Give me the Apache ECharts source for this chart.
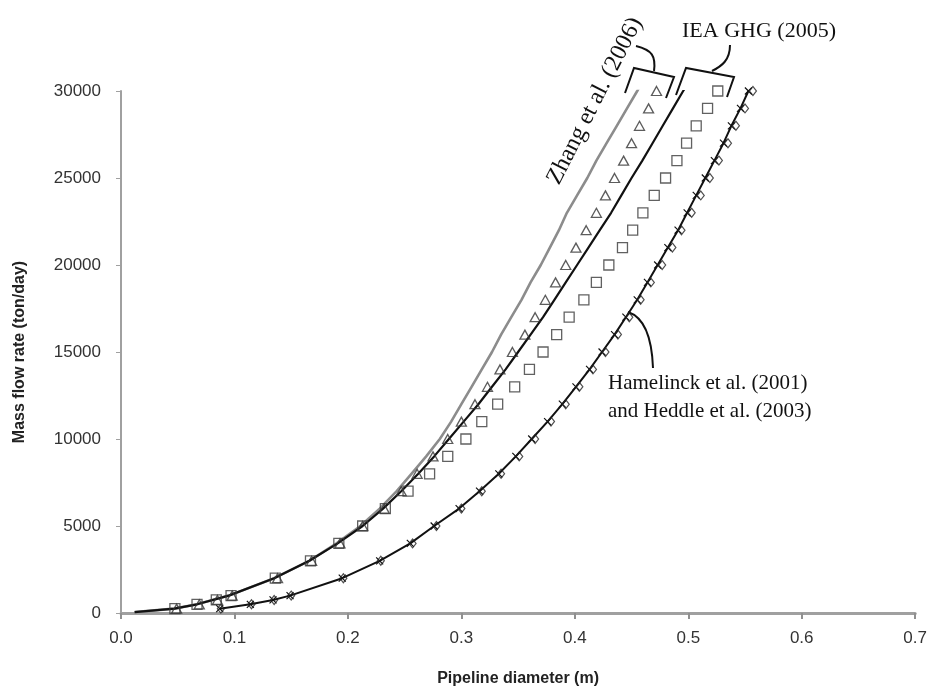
<!DOCTYPE html>
<html>
<head>
<meta charset="utf-8">
<script src="https://cdn.jsdelivr.net/npm/echarts@6/dist/echarts.min.js"></script>
<style>
html,body{margin:0;padding:0;background:#fff;}
#chart{width:930px;height:694px;}
</style>
</head>
<body>
<div id="chart"></div>
<script>
// ---------- data (mass flow rate in ton/day, pipeline diameter in m) ----------
const pointFlow = [250, 500, 750, 1000, 2000, 3000, 4000, 5000, 6000, 7000, 8000, 9000, 10000,
  11000, 12000, 13000, 14000, 15000, 16000, 17000, 18000, 19000, 20000,
  21000, 22000, 23000, 24000, 25000, 26000, 27000, 28000, 29000, 30000];

// Zhang et al. (2006) - triangles
const zhangPointsD = [0.049, 0.069, 0.085, 0.098, 0.138, 0.168, 0.193, 0.213, 0.232, 0.247, 0.261, 0.275, 0.288,
  0.300, 0.312, 0.323, 0.334, 0.345, 0.356, 0.365, 0.374, 0.383, 0.392,
  0.401, 0.410, 0.419, 0.427, 0.435, 0.443, 0.450, 0.457, 0.465, 0.472];

// IEA GHG (2005) - squares
const ieaPointsD = [0.0475, 0.067, 0.084, 0.097, 0.136, 0.167, 0.192, 0.213, 0.233, 0.253, 0.272, 0.288, 0.304,
  0.318, 0.332, 0.347, 0.360, 0.372, 0.384, 0.395, 0.408, 0.419, 0.430,
  0.442, 0.451, 0.460, 0.470, 0.480, 0.490, 0.4985, 0.507, 0.517, 0.526];

// Hamelinck et al. (2001) - diamonds
const hamelinckD = [0.088, 0.115, 0.135, 0.150, 0.196, 0.229, 0.257, 0.278, 0.300, 0.318, 0.335, 0.351, 0.365,
  0.379, 0.392, 0.404, 0.416, 0.427, 0.438, 0.448, 0.458, 0.467, 0.477,
  0.486, 0.494, 0.503, 0.511, 0.519, 0.527, 0.535, 0.542, 0.550, 0.557];

// Heddle et al. (2003) - crosses on line
const heddleD = [0.087, 0.114, 0.134, 0.149, 0.195, 0.228, 0.255, 0.276, 0.298, 0.316, 0.333, 0.348, 0.362,
  0.376, 0.389, 0.401, 0.413, 0.424, 0.435, 0.445, 0.455, 0.464, 0.473,
  0.482, 0.491, 0.499, 0.507, 0.515, 0.523, 0.531, 0.538, 0.546, 0.553];

// model curves
const curveFlow = [50, 250, 500, 1000, 2000, 3000, 4000, 5000, 6000, 7000, 8000, 9000, 10000,
  11000, 12000, 13000, 14000, 15000, 16000, 17000, 18000, 19000, 20000,
  21000, 22000, 23000, 24000, 25000, 26000, 27000, 28000, 29000, 30000, 30350];
const zhangCurveD = [0.012, 0.047, 0.067, 0.095, 0.135, 0.166, 0.190, 0.211, 0.228, 0.243, 0.256, 0.269, 0.281,
  0.291, 0.300, 0.309, 0.318, 0.327, 0.335, 0.344, 0.353, 0.361, 0.370,
  0.378, 0.386, 0.393, 0.402, 0.411, 0.419, 0.428, 0.437, 0.446, 0.455, 0.458];
const ieaCurveD = [0.012, 0.047, 0.067, 0.095, 0.135, 0.166, 0.191, 0.213, 0.231, 0.247, 0.262, 0.276, 0.289,
  0.302, 0.315, 0.327, 0.339, 0.350, 0.361, 0.372, 0.382, 0.392, 0.402,
  0.412, 0.422, 0.432, 0.441, 0.450, 0.4595, 0.4685, 0.4775, 0.4865, 0.4955, 0.499];

const xTicks = [0.0, 0.1, 0.2, 0.3, 0.4, 0.5, 0.6, 0.7];
const yTicks = [0, 5000, 10000, 15000, 20000, 25000, 30000];

function pairs(ds, fs){ return ds.map((d,i)=>[d, fs[i]]); }

const chart = echarts.init(document.getElementById('chart'), null, {renderer:'canvas'});
const serif = '"Liberation Serif", "DejaVu Serif", serif';
const sans = '"Liberation Sans", Arial, sans-serif';

const option = {
  backgroundColor: '#fff',
  animation: false,
  grid: {left: 121, right: 14, top: 91, bottom: 81},
  xAxis: {
    type: 'value', min: xTicks[0], max: xTicks[xTicks.length-1], interval: 0.1,
    name: 'Pipeline diameter (m)', nameLocation: 'middle', nameGap: 58,
    nameTextStyle: {fontFamily: sans, fontSize: 16, fontWeight: 'bold', color: '#222'},
    axisLine: {show: true, lineStyle: {color: '#a0a0a0', width: 3}},
    axisTick: {show: true, length: 6, lineStyle: {color: '#909090', width: 2}},
    axisLabel: {fontFamily: sans, fontSize: 17, color: '#333', margin: 17,
      formatter: v => v.toFixed(1)},
    splitLine: {show: false}
  },
  yAxis: {
    type: 'value', min: yTicks[0], max: yTicks[yTicks.length-1], interval: 5000,
    name: 'Mass flow rate (ton/day)', nameLocation: 'middle', nameGap: 93,
    nameTextStyle: {fontFamily: sans, fontSize: 16, fontWeight: 'bold', color: '#222'},
    axisLine: {show: true, lineStyle: {color: '#a0a0a0', width: 2}},
    axisTick: {show: true, length: 5, lineStyle: {color: '#a0a0a0', width: 1}},
    axisLabel: {fontFamily: sans, fontSize: 17, color: '#333', margin: 20,
      formatter: v => String(v)},
    splitLine: {show: false}
  },
  series: [
    {name: 'Zhang et al. (2006) model', type: 'line', data: pairs(zhangCurveD, curveFlow),
      showSymbol: false, lineStyle: {color: '#8c8c8c', width: 2.6}, z: 2},
    {name: 'IEA GHG (2005) model', type: 'line', data: pairs(ieaCurveD, curveFlow),
      showSymbol: false, lineStyle: {color: '#111', width: 2.2}, z: 3},
    {name: 'Heddle et al. (2003)', type: 'line', data: pairs(heddleD, pointFlow),
      symbol: 'path://M0,0L10,10M10,0L0,10', symbolSize: 7,
      itemStyle: {color: 'rgba(0,0,0,0)', borderColor: '#111', borderWidth: 1.2},
      lineStyle: {color: '#111', width: 2}, z: 3},
    {name: 'Hamelinck et al. (2001)', type: 'scatter', data: pairs(hamelinckD, pointFlow),
      symbol: 'diamond', symbolSize: [7, 9],
      itemStyle: {color: 'rgba(0,0,0,0)', borderColor: '#222', borderWidth: 1.2}, z: 4},
    {name: 'Zhang et al. (2006)', type: 'scatter', data: pairs(zhangPointsD, pointFlow),
      symbol: 'triangle', symbolSize: [10, 9],
      itemStyle: {color: 'rgba(0,0,0,0)', borderColor: '#333', borderWidth: 1.3}, z: 4},
    {name: 'IEA GHG (2005)', type: 'scatter', data: pairs(ieaPointsD, pointFlow),
      symbol: 'rect', symbolSize: 10,
      itemStyle: {color: 'rgba(0,0,0,0)', borderColor: '#3a3a3a', borderWidth: 1.3}, z: 4}
  ],
  graphic: [
    // Zhang bracket + tail
    {type: 'polyline', shape: {points: [[625,93],[634,68],[674,77],[666,98]]},
      style: {stroke: '#111', lineWidth: 2, fill: null}},
    {type: 'bezierCurve', shape: {x1: 654, y1: 71, x2: 636, y2: 46, cpx1: 656, cpy1: 56, cpx2: 652, cpy2: 50},
      style: {stroke: '#111', lineWidth: 2, fill: null}},
    // IEA bracket + tail
    {type: 'polyline', shape: {points: [[676,95],[686,68],[734,77],[727,97]]},
      style: {stroke: '#111', lineWidth: 2, fill: null}},
    {type: 'bezierCurve', shape: {x1: 712, y1: 71, x2: 730, y2: 45, cpx1: 722, cpy1: 66, cpx2: 730, cpy2: 60},
      style: {stroke: '#111', lineWidth: 2, fill: null}},
    // Hamelinck pointer
    {type: 'bezierCurve', shape: {x1: 653, y1: 368, x2: 628, y2: 312, cpx1: 652, cpy1: 340, cpx2: 646, cpy2: 318},
      style: {stroke: '#111', lineWidth: 2, fill: null}},
    // texts
    {type: 'text', x: 682, y: 31, style: {text: 'IEA GHG (2005)', font: '22px ' + serif, fill: '#111', textVerticalAlign: 'middle'}},
    {type: 'text', x: 608, y: 383, style: {text: 'Hamelinck et al. (2001)', font: '21px ' + serif, fill: '#111', textVerticalAlign: 'middle'}},
    {type: 'text', x: 608, y: 411, style: {text: 'and Heddle et al. (2003)', font: '21px ' + serif, fill: '#111', textVerticalAlign: 'middle'}},
    {type: 'text', x: 595, y: 101, rotation: 63 * Math.PI / 180,
      style: {text: 'Zhang et al. (2006)', font: '24px ' + serif, fill: '#111', textAlign: 'center', textVerticalAlign: 'middle'}}
  ]
};
chart.setOption(option);
</script>
</body>
</html>
